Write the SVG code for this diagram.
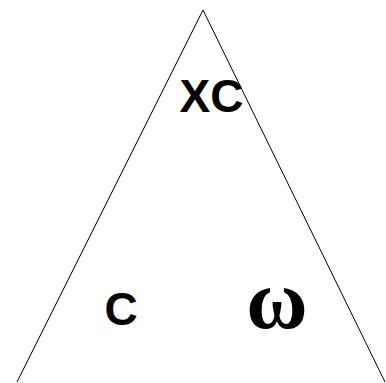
<svg xmlns="http://www.w3.org/2000/svg" width="386" height="383" viewBox="0 0 386 383">
<style>
.lbl{font-family:"Liberation Sans",Arial,sans-serif;font-weight:bold;font-size:46px;fill:#000}
.sym{font-family:"Liberation Serif","Times New Roman",serif;font-weight:bold;font-size:84px;fill:#000}
.edge{stroke:#000;stroke-width:1;fill:none}
</style>
<rect width="386" height="383" fill="#fff"/>
<g id="connectors">
<polyline class="edge" points="17,382 203,10 385,382"/>
</g>
<g id="node-xc"><text class="lbl" x="211.5" y="112" text-anchor="middle">XC</text></g>
<g id="node-c"><text class="lbl" x="121" y="325" text-anchor="middle">C</text></g>
<g id="node-omega"><text class="sym" x="277" y="328" text-anchor="middle">ω</text></g>
</svg>
